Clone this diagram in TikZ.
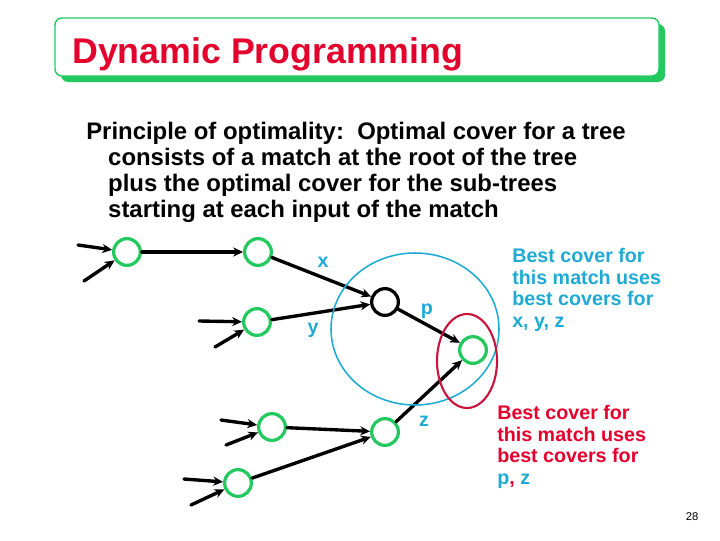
\documentclass[tikz,border=0pt]{standalone}
\usepackage{fontspec}
\setmainfont{Liberation Sans}
\usetikzlibrary{arrows.meta}
\begin{document}
\begin{tikzpicture}[x=0.025cm, y=-0.025cm, line cap=round, line join=round,
  match/.style={circle, draw=matchgreen, line width=2.3pt, minimum size=19pt, inner sep=0pt},
  root/.style={match, draw=black},
  feed/.style={line width=2.4pt, -{Stealth[length=7pt,width=6.5pt]}},
  lbl/.style={text=coverblue, font=\bfseries\fontsize{14}{15.4}\selectfont, inner sep=0pt}]
  \definecolor{matchgreen}{RGB}{35,200,95}
  \definecolor{coverblue}{RGB}{30,170,210}
  \definecolor{titlered}{RGB}{228,0,45}
  \definecolor{ringred}{RGB}{200,20,60}
  \useasboundingbox (0,0) rectangle (720,540);
  % title bar
  \fill[matchgreen, rounded corners=5pt] (61,24) rectangle (665,82);
  \draw[matchgreen, fill=white, line width=1pt, rounded corners=5pt] (55,18) rectangle (659,76);
  \node[anchor=base west, inner sep=0pt, text=titlered, font=\bfseries\fontsize{25.4}{30}\selectfont] (title) at (72,63) {Dynamic Programming};
  \node[anchor=north west, inner sep=0pt, align=left, font=\bfseries\fontsize{17}{18.5}\selectfont] (principle) at (86,122)
    {Principle of optimality:\ \ Optimal cover for a tree\\
     \hspace*{15.6pt}consists of a match at the root of the tree\\
     \hspace*{15.6pt}plus the optimal cover for the sub-trees\\
     \hspace*{15.6pt}starting at each input of the match};
  % matches
  \node[match] (a) at (127,252) {};
  \node[match] (b) at (258,252) {};
  \node[match] (c) at (257,322) {};
  \node[root]  (d) at (385,302) {};
  \node[match] (e) at (473,350) {};
  \node[match] (f) at (272,427) {};
  \node[match] (g) at (385,432) {};
  \node[match] (h) at (238,483) {};
  % free inputs
  \coordinate (a1) at (78,245);
  \coordinate (a2) at (84,281);
  \coordinate (c1) at (199,321);
  \coordinate (c2) at (215,347);
  \coordinate (f1) at (221,420);
  \coordinate (f2) at (226,445);
  \coordinate (h1) at (184,479);
  \coordinate (h2) at (191,505);
  \foreach \s/\t in {a1/a, a2/a, c1/c, c2/c, f1/f, f2/f, h1/h, h2/h, a/b, b/d, c/d, d/e, f/g, h/g, g/e}
    \draw[feed] (\s) -- (\t);
  % covers
  \draw[coverblue, line width=1.1pt] (415,329) ellipse [x radius=84, y radius=76];
  \draw[ringred, line width=1.5pt] (467,361) ellipse [x radius=30, y radius=47];
  \node[lbl] (lx) at (323,262) {x};
  \node[lbl] (ly) at (313,330) {y};
  \node[lbl] (lp) at (427,311) {p};
  \node[lbl] (lz) at (424,421) {z};
  \node[lbl, anchor=north west, align=left] (bluenote) at (512,248)
    {Best cover for\\this match uses\\best covers for\\x, y, z};
  \node[lbl, anchor=north west, align=left, text=titlered] (rednote) at (497,405)
    {Best cover for\\this match uses\\best covers for\\\textcolor{coverblue}{p}, \textcolor{coverblue}{z}};
  \node[font=\fontsize{8}{9}\selectfont, inner sep=0pt] (page) at (692,517) {28};
\end{tikzpicture}
\end{document}
